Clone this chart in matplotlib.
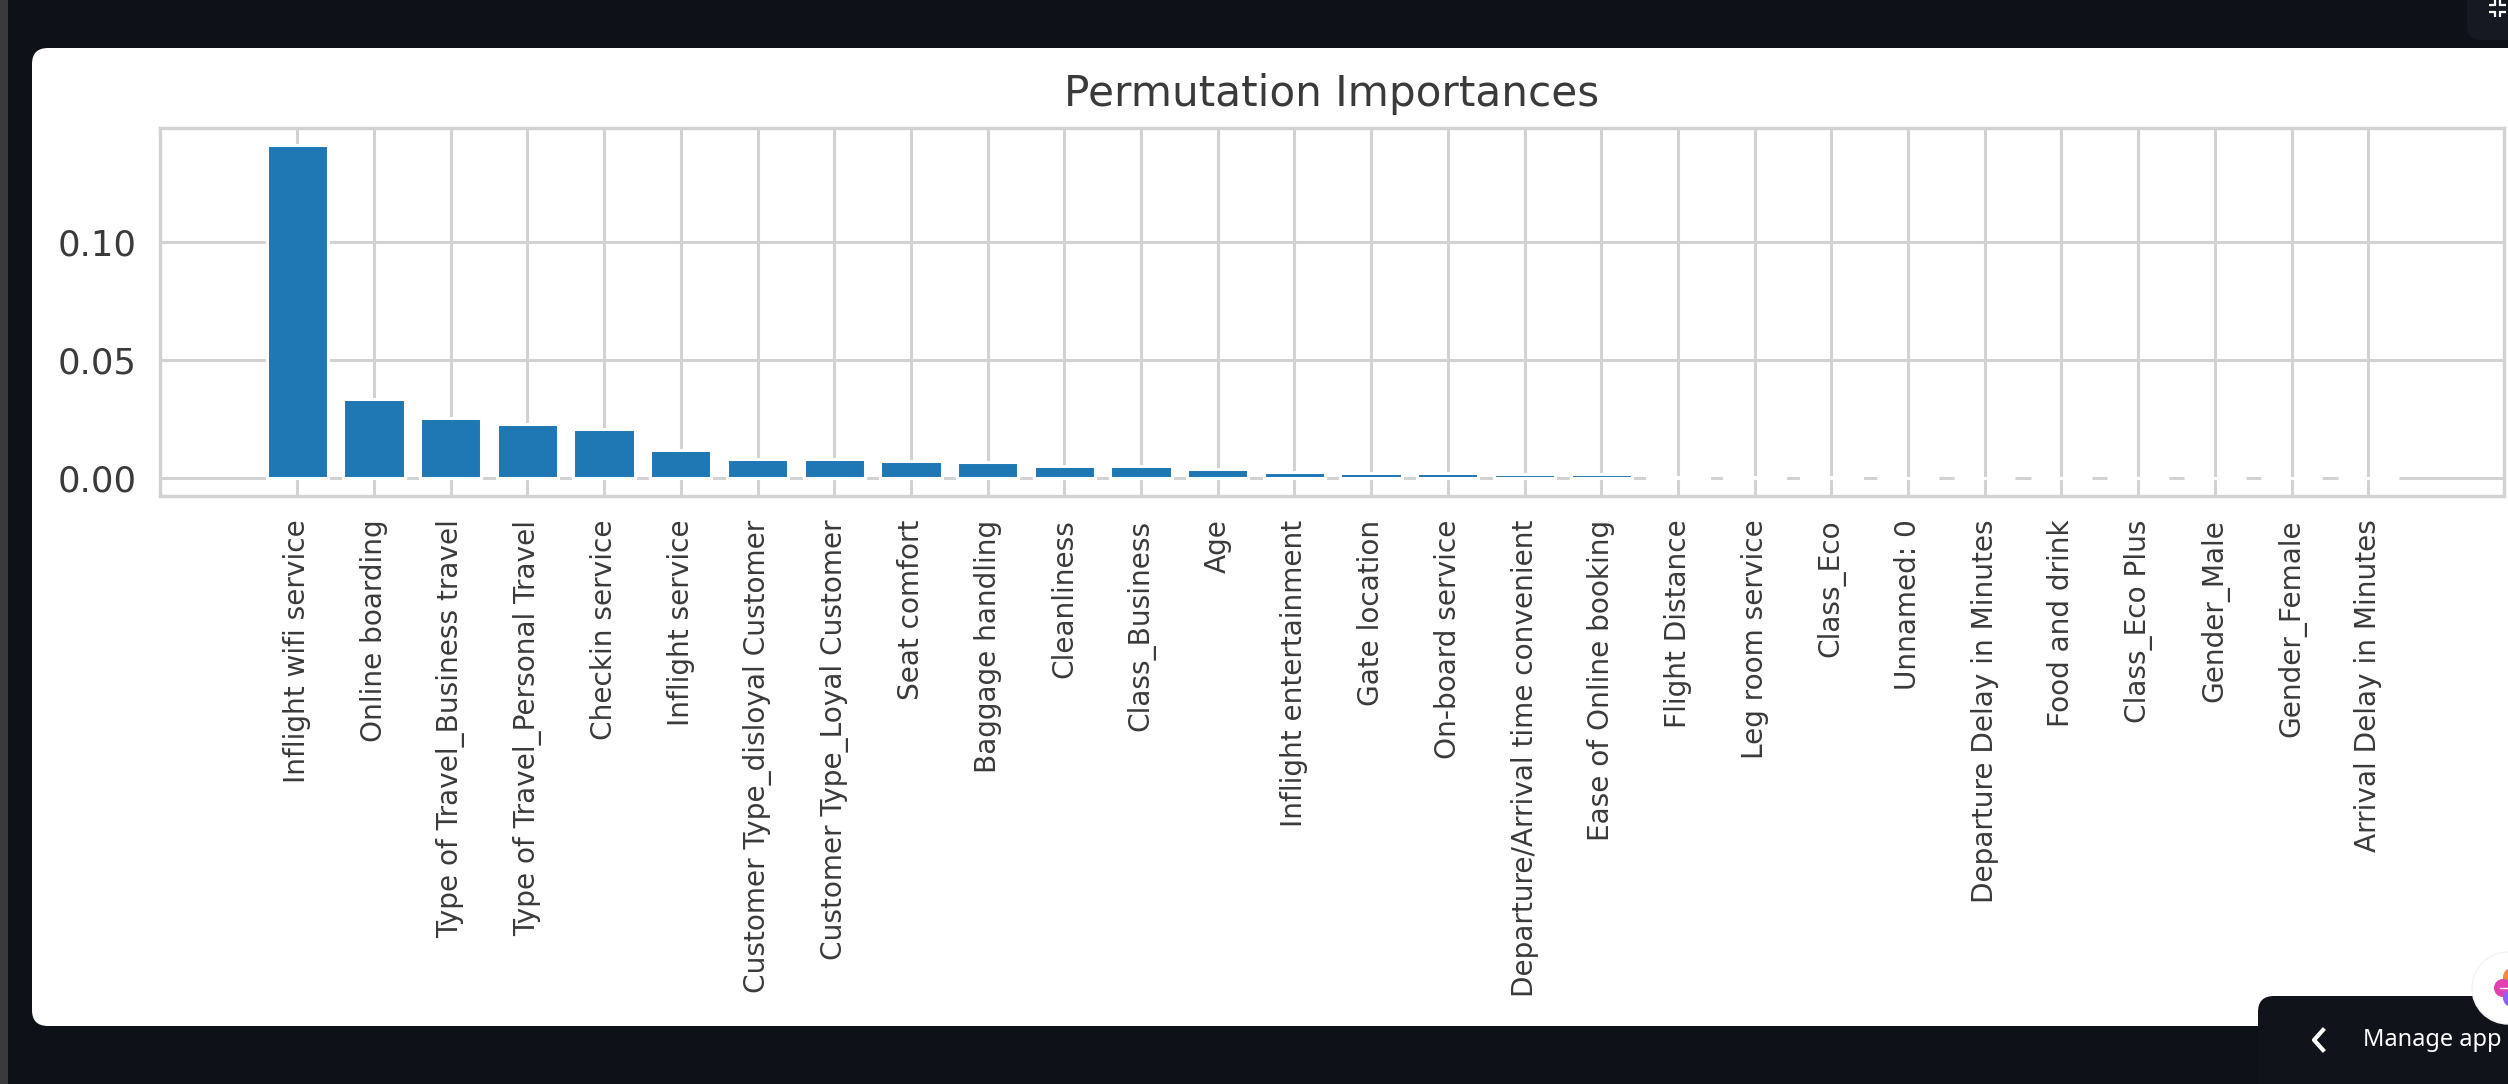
import matplotlib
matplotlib.use('Agg')
import matplotlib.pyplot as plt
from matplotlib.patches import FancyBboxPatch, Rectangle, Circle

features = ['Inflight wifi service', 'Online boarding', 'Type of Travel_Business travel',
            'Type of Travel_Personal Travel', 'Checkin service', 'Inflight service',
            'Customer Type_disloyal Customer', 'Customer Type_Loyal Customer', 'Seat comfort',
            'Baggage handling', 'Cleanliness', 'Class_Business', 'Age', 'Inflight entertainment',
            'Gate location', 'On-board service', 'Departure/Arrival time convenient',
            'Ease of Online booking', 'Flight Distance', 'Leg room service', 'Class_Eco',
            'Unnamed: 0', 'Departure Delay in Minutes', 'Food and drink', 'Class_Eco Plus',
            'Gender_Male', 'Gender_Female', 'Arrival Delay in Minutes']
importances = [0.1412, 0.0335, 0.0255, 0.0229, 0.0207, 0.0118, 0.0080, 0.0079, 0.0071,
               0.0070, 0.0053, 0.0051, 0.0037, 0.0026, 0.0020, 0.0020, 0.0017, 0.0017,
               0.0004, 0.0003, 0.0003, 0.0002, 0.0002, 0.0002, 0.0002, 0.0001, 0.0001, 0.0001]
y_ticks = [0.00, 0.05, 0.10]

W, H = 2508, 1084
DARK = '#0e1117'
GRID = '#d2d2d2'
TEXT = '#3a3a3a'

fig = plt.figure(figsize=(W / 100, H / 100), dpi=100, facecolor=DARK)

# page background, in pixels
bg = fig.add_axes([0, 0, 1, 1], zorder=0)
bg.set_xlim(0, W)
bg.set_ylim(H, 0)
bg.axis('off')
bg.add_patch(Rectangle((0, 0), 8, H, color='#3a3a3a', lw=0))
bg.add_patch(FancyBboxPatch((48, 64), W, 946, boxstyle='round,pad=16,rounding_size=16',
                            fc='white', ec='none'))

# the chart
ax = fig.add_axes([160 / W, 1 - 496 / H, (2504 - 160) / W, (496 - 128) / H], zorder=1)
ax.patch.set_alpha(0)
ax.bar(range(len(features)), importances, width=0.8, color='#1f77b4',
       edgecolor='white', linewidth=2.2, zorder=3)
ax.set_xlim(-1.79, 28.77)
ax.set_ylim(-0.0076, 0.1483)
ax.set_title('Permutation Importances', fontsize=30.3, color=TEXT, pad=16)
ax.set_xticks(range(len(features)))
ax.set_xticklabels(features, rotation=90, fontsize=20.2, color=TEXT)
ax.set_yticks(y_ticks)
ax.set_yticklabels(['%.2f' % v for v in y_ticks], fontsize=25.5, color=TEXT)
ax.tick_params(axis='both', length=0)
ax.tick_params(axis='x', pad=17)
ax.tick_params(axis='y', pad=17)
ax.grid(True, color=GRID, linewidth=2.2, zorder=0)
ax.set_axisbelow(True)
for s in ax.spines.values():
    s.set_color(GRID)
    s.set_linewidth(2.4)

# app chrome on top
top = fig.add_axes([0, 0, 1, 1], zorder=2)
top.set_xlim(0, W)
top.set_ylim(H, 0)
top.axis('off')
top.patch.set_alpha(0)

# fullscreen button
top.add_patch(FancyBboxPatch((2467, -30), 80, 70, boxstyle='round,pad=0,rounding_size=14',
                             fc='#151922', ec='none'))
for xs, ys in [([2489, 2495, 2495], [5, 5, 0]), ([2506, 2500, 2500], [5, 5, 0]),
               ([2489, 2495, 2495], [12, 12, 17]), ([2506, 2500, 2500], [12, 12, 17])]:
    top.plot(xs, ys, color='white', lw=1.6, solid_joinstyle='miter', solid_capstyle='butt')

# manage app tab
top.add_patch(FancyBboxPatch((2258, 996), 300, 120, boxstyle='round,pad=0,rounding_size=16',
                             fc='#10131a', ec='none'))
top.plot([2323, 2314, 2323], [1030, 1040, 1050], color='white', lw=3)
top.text(2363, 1040, 'Manage app', color='white', fontsize=17, family='Noto Sans',
         va='center', ha='left')

# assistant badge
top.add_patch(Circle((2508, 988), 36, fc='white', ec='#f2f2f2', lw=1))
top.add_patch(Circle((2512, 977), 9, fc='#f08a3c', ec='none'))
top.add_patch(Circle((2503, 988), 9, fc='#e040b0', ec='none'))
top.add_patch(Circle((2512, 998), 9, fc='#9060f0', ec='none'))
top.plot([2500, 2510], [988, 988], color='white', lw=1)

fig.savefig('out.png', dpi=100, facecolor=fig.get_facecolor())
